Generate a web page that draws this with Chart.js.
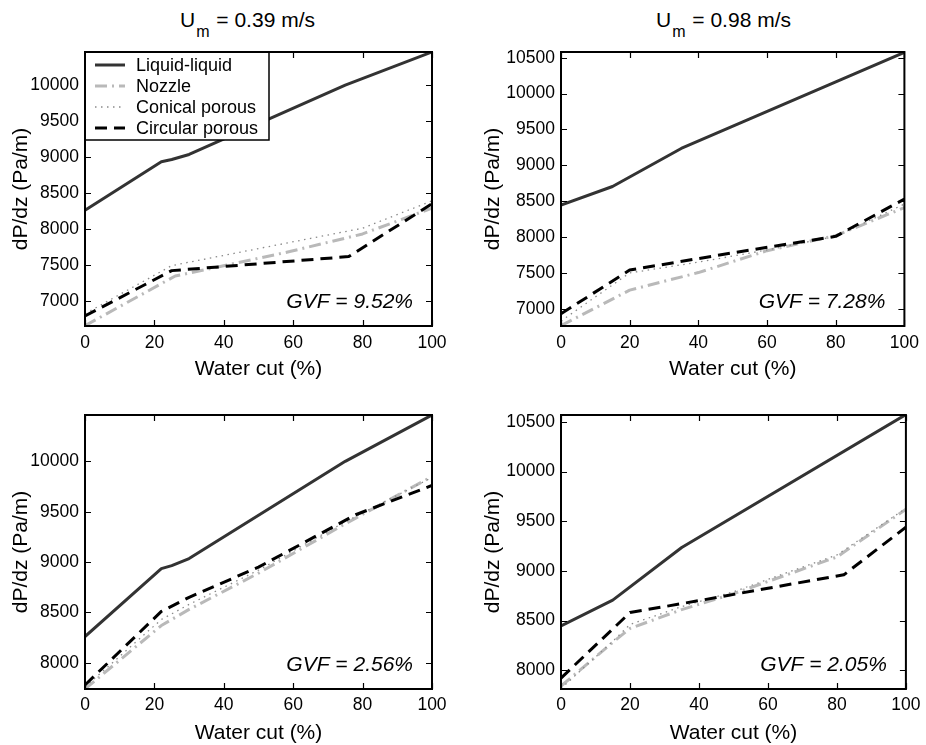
<!DOCTYPE html>
<html>
<head>
<meta charset="utf-8">
<script src="https://cdn.jsdelivr.net/npm/chart.js@4.4.1/dist/chart.umd.min.js"></script>
<style>
  html, body { margin: 0; padding: 0; background: #fff; }
  body { width: 926px; height: 745px; position: relative; overflow: hidden; font-family: "Liberation Sans", Arial, sans-serif; }
  .cv { position: absolute; }
  .ttl { position: absolute; font: 21px/1 "Liberation Sans", Arial, sans-serif; white-space: nowrap; color: #000; }
  .sub { font-size: 16px; position: relative; top: 10px; margin-left: 1px; margin-right: 1px; }
</style>
</head>
<body>
<div class="ttl" style="left:180px;top:9px">U<span class="sub">m</span> = 0.39 m/s</div>
<div class="ttl" style="left:656px;top:9px">U<span class="sub">m</span> = 0.98 m/s</div>

<canvas id="cA" class="cv" width="463" height="380" style="left:0;top:0"></canvas>
<canvas id="cB" class="cv" width="463" height="380" style="left:463px;top:0"></canvas>
<canvas id="cC" class="cv" width="463" height="365" style="left:0;top:380px"></canvas>
<canvas id="cD" class="cv" width="463" height="365" style="left:463px;top:380px"></canvas>

<script>
// ---------- data (water cut %, dP/dz Pa/m) ----------
const seriesNames = ["Liquid-liquid", "Nozzle", "Conical porous", "Circular porous"];
const xTicks = [0, 20, 40, 60, 80, 100];

// single-phase liquid-liquid reference curves
const liqLeftX  = [0, 22, 25, 30, 75, 100];
const liqLeftY  = [8260, 8935, 8965, 9035, 10000, 10460];
const liqRightX = [0, 15, 35, 100];
const liqRightY = [8445, 8705, 9235, 10575];

// panel A: Um = 0.39 m/s, GVF = 9.52%
const nozA_X = [0, 26, 43, 59, 80, 100];
const nozA_Y = [6655, 7345, 7520, 7685, 7930, 8290];
const conA_X = [0, 25, 80, 100];
const conA_Y = [6820, 7490, 8010, 8390];
const cirA_X = [0, 25, 76, 100];
const cirA_Y = [6790, 7420, 7615, 8350];
const yRangeA = [6650, 10460];
const yTicksA = [7000, 7500, 8000, 8500, 9000, 9500, 10000];

// panel B: Um = 0.98 m/s, GVF = 7.28%
const nozB_X = [0, 20, 40, 60, 80, 100];
const nozB_Y = [6765, 7260, 7505, 7810, 8020, 8410];
const conB_X = [0, 20, 40, 60, 80, 100];
const conB_Y = [6830, 7500, 7650, 7820, 8010, 8460];
const cirB_X = [0, 20, 50, 80, 100];
const cirB_Y = [6930, 7540, 7780, 8010, 8530];
const yRangeB = [6760, 10580];
const yTicksB = [7000, 7500, 8000, 8500, 9000, 9500, 10000, 10500];

// panel C: Um = 0.39 m/s, GVF = 2.56%
const nozC_X = [0, 22, 30, 50, 75, 100];
const nozC_Y = [7740, 8370, 8530, 8890, 9380, 9850];
const conC_X = [0, 22, 30, 50, 75, 100];
const conC_Y = [7760, 8430, 8580, 8920, 9400, 9840];
const cirC_X = [0, 22, 30, 50, 78, 100];
const cirC_Y = [7780, 8510, 8650, 8950, 9470, 9760];
const yRangeC = [7740, 10460];
const yTicksC = [8000, 8500, 9000, 9500, 10000];

// panel D: Um = 0.98 m/s, GVF = 2.05%
const nozD_X = [0, 15, 20, 35, 50, 65, 80, 100];
const nozD_Y = [7840, 8280, 8420, 8610, 8770, 8955, 9140, 9620];
const conD_X = [0, 15, 20, 35, 50, 65, 80, 100];
const conD_Y = [7815, 8290, 8460, 8640, 8790, 8975, 9160, 9630];
const cirD_X = [0, 20, 40, 60, 82, 100];
const cirD_Y = [7920, 8580, 8700, 8825, 8960, 9440];
const yRangeD = [7810, 10570];
const yTicksD = [8000, 8500, 9000, 9500, 10000, 10500];

const gvfLabels = ["GVF = 9.52%", "GVF = 7.28%", "GVF = 2.56%", "GVF = 2.05%"];

// ---------- styles ----------
const FONT = '"Liberation Sans", Arial, sans-serif';
Chart.defaults.font.family = FONT;
Chart.defaults.color = '#000';

const styles = [
  { borderColor: '#333333', borderWidth: 3, borderDash: [], order: 0 },
  { borderColor: '#b9b9b9', borderWidth: 3, borderDash: [12, 5, 2, 5], order: 3 },
  { borderColor: '#8a8a8a', borderWidth: 1.3, borderDash: [1.5, 4.5], order: 2 },
  { borderColor: '#000000', borderWidth: 3, borderDash: [12, 7], order: 1 }
];

function pts(xs, ys) { return xs.map((x, i) => ({ x: x, y: ys[i] })); }

const decorPlugin = {
  id: 'decor',
  afterDatasetsDraw(chart, args, opts) {
    const { ctx, chartArea: a, scales } = chart;
    const sx = scales.x, sy = scales.y;
    ctx.save();
    ctx.setLineDash([]);
    // GVF annotation
    ctx.fillStyle = '#000';
    ctx.font = 'italic 21px ' + FONT;
    ctx.textAlign = 'right';
    ctx.textBaseline = 'middle';
    ctx.fillText(opts.gvf, a.right - 19, a.bottom - 24);
    // inward ticks
    ctx.strokeStyle = '#000';
    ctx.lineWidth = 1.2;
    ctx.beginPath();
    sx.ticks.forEach(t => {
      const p = Math.round(sx.getPixelForValue(t.value)) + 0.5;
      ctx.moveTo(p, a.bottom); ctx.lineTo(p, a.bottom - 6);
      ctx.moveTo(p, a.top); ctx.lineTo(p, a.top + 6);
    });
    sy.ticks.forEach(t => {
      const p = Math.round(sy.getPixelForValue(t.value)) + 0.5;
      ctx.moveTo(a.left, p); ctx.lineTo(a.left + 6, p);
      ctx.moveTo(a.right, p); ctx.lineTo(a.right - 6, p);
    });
    ctx.stroke();
    // legend
    if (opts.legend) {
      const lx = a.left, ly = a.top, lw = 184, lh = 88;
      ctx.fillStyle = '#fff';
      ctx.fillRect(lx, ly, lw, lh);
      ctx.lineWidth = 1.5;
      ctx.strokeStyle = '#000';
      ctx.strokeRect(lx, ly, lw, lh);
      chart.data.datasets.forEach((ds, i) => {
        const yy = ly + 13 + i * 21;
        ctx.save();
        ctx.setLineDash(ds.borderDash || []);
        ctx.strokeStyle = ds.borderColor;
        ctx.lineWidth = ds.borderWidth;
        ctx.beginPath();
        ctx.moveTo(lx + 10, yy); ctx.lineTo(lx + 40, yy);
        ctx.stroke();
        ctx.restore();
        ctx.fillStyle = '#000';
        ctx.font = '18px ' + FONT;
        ctx.textAlign = 'left';
        ctx.textBaseline = 'middle';
        ctx.fillText(ds.label, lx + 51, yy + 1);
      });
    }
    // frame
    ctx.setLineDash([]);
    ctx.lineWidth = 2;
    ctx.strokeStyle = '#000';
    ctx.strokeRect(a.left, a.top, a.right - a.left, a.bottom - a.top);
    ctx.restore();
  }
};

const panels = [
  { id: 'cA', gvf: gvfLabels[0], yr: yRangeA, yt: yTicksA, legend: true,
    series: [[liqLeftX, liqLeftY], [nozA_X, nozA_Y], [conA_X, conA_Y], [cirA_X, cirA_Y]],
    yW: 85, padR: 31, padT: 52, xH: 54, yTitlePad: 10.5, xTickPad: 7, xTitlePad: 0 },
  { id: 'cB', gvf: gvfLabels[1], yr: yRangeB, yt: yTicksB, legend: false,
    series: [[liqRightX, liqRightY], [nozB_X, nozB_Y], [conB_X, conB_Y], [cirB_X, cirB_Y]],
    yW: 98, padR: 17, padT: 52, xH: 54, yTitlePad: 19.5, xTickPad: 7, xTitlePad: 0 },
  { id: 'cC', gvf: gvfLabels[2], yr: yRangeC, yt: yTicksC, legend: false,
    series: [[liqLeftX, liqLeftY], [nozC_X, nozC_Y], [conC_X, conC_Y], [cirC_X, cirC_Y]],
    yW: 85, padR: 31, padT: 35, xH: 56, yTitlePad: 10.5, xTickPad: 5.5, xTitlePad: 1.5 },
  { id: 'cD', gvf: gvfLabels[3], yr: yRangeD, yt: yTicksD, legend: false,
    series: [[liqRightX, liqRightY], [nozD_X, nozD_Y], [conD_X, conD_Y], [cirD_X, cirD_Y]],
    yW: 98, padR: 17, padT: 35, xH: 56, yTitlePad: 19.5, xTickPad: 5.5, xTitlePad: 1.5 }
];

panels.forEach(p => {
  const datasets = p.series.map((s, i) => Object.assign({
    label: seriesNames[i],
    data: pts(s[0], s[1]),
    pointRadius: 0,
    tension: 0,
    fill: false,
    borderCapStyle: 'butt',
    borderJoinStyle: 'round'
  }, styles[i]));

  new Chart(document.getElementById(p.id), {
    type: 'line',
    data: { datasets: datasets },
    options: {
      responsive: false,
      animation: false,
      events: [],
      layout: { padding: { left: 0, top: p.padT, right: p.padR, bottom: 0 } },
      plugins: {
        legend: { display: false },
        tooltip: { enabled: false },
        decor: { gvf: p.gvf, legend: p.legend }
      },
      scales: {
        x: {
          type: 'linear', min: 0, max: 100,
          grid: { display: false, drawTicks: false },
          border: { display: false },
          afterBuildTicks: s => { s.ticks = xTicks.map(v => ({ value: v })); },
          afterFit: s => { s.height = p.xH; },
          ticks: { padding: p.xTickPad, maxRotation: 0, autoSkip: false, color: '#000',
                   font: { size: 17.5, family: FONT }, callback: v => String(v) },
          title: { display: true, text: 'Water cut (%)', color: '#000',
                   font: { size: 21, family: FONT, lineHeight: 1 },
                   padding: { top: 0, bottom: p.xTitlePad } }
        },
        y: {
          type: 'linear', min: p.yr[0], max: p.yr[1],
          grid: { display: false, drawTicks: false },
          border: { display: false },
          afterBuildTicks: s => { s.ticks = p.yt.map(v => ({ value: v })); },
          afterFit: s => { s.width = p.yW; },
          ticks: { padding: 6, color: '#000', autoSkip: false,
                   font: { size: 17.5, family: FONT }, callback: v => String(v) },
          title: { display: true, text: 'dP/dz (Pa/m)', color: '#000',
                   font: { size: 21, family: FONT, lineHeight: 1 },
                   padding: { top: p.yTitlePad, bottom: 0 } }
        }
      }
    },
    plugins: [decorPlugin]
  });
});
</script>
</body>
</html>
